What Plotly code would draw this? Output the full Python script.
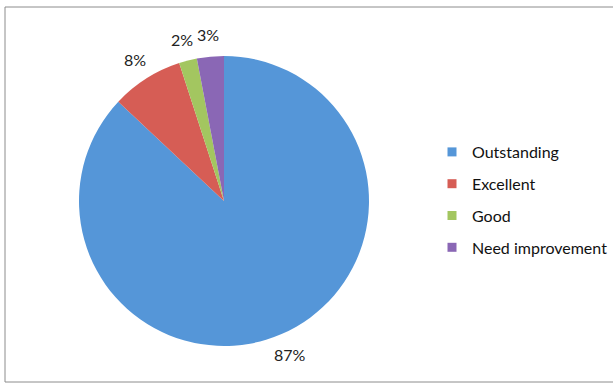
import math
import plotly.graph_objects as go

categories = ["Outstanding", "Excellent", "Good", "Need improvement"]
values = [87, 8, 2, 3]
colors = ["#5596d8", "#d65d55", "#a3c660", "#8a67b5"]

W, H = 613, 391
FONT = "Lato, Open Sans, sans-serif"

# pie geometry (pixels from top-left)
CX, CY, R = 224, 201, 145

fig = go.Figure()
fig.add_trace(go.Pie(
    labels=categories,
    values=values,
    marker=dict(colors=colors, line=dict(width=0)),
    sort=False,
    direction="clockwise",
    rotation=0,
    textinfo="none",
    showlegend=False,
    hoverinfo="label+percent",
    domain=dict(x=[(CX - R) / W, (CX + R) / W], y=[1 - (CY + R) / H, 1 - (CY - R) / H]),
))

# percentage labels placed outside each slice at its mid-angle
total = sum(values)
annotations = []
cum = 0.0
for v in values:
    mid = (cum + v / 2) / total * 2 * math.pi
    cum += v
    dist = R + 22
    px = CX + dist * math.sin(mid)
    py = CY - dist * math.cos(mid)
    annotations.append(dict(
        x=px / W, y=1 - py / H, xref="paper", yref="paper",
        text=f"{round(v / total * 100)}%", showarrow=False,
        xanchor="center", yanchor="middle",
        font=dict(family=FONT, size=16, color="#222222"),
    ))

# legend entries (one per category) so the vertical spacing can be matched
for i, (cat, col) in enumerate(zip(categories, colors)):
    fig.add_trace(go.Scatter(
        x=[None], y=[None], mode="markers", name=cat,
        marker=dict(symbol="square", size=9, color=col),
        legendgroup=f"g{i}", showlegend=True,
    ))

fig.update_layout(
    width=W, height=H,
    margin=dict(l=0, r=0, t=0, b=0),
    paper_bgcolor="white",
    plot_bgcolor="white",
    xaxis=dict(visible=False),
    yaxis=dict(visible=False),
    annotations=annotations,
    legend=dict(
        x=432 / W, y=1 - 135 / H, xanchor="left", yanchor="top",
        font=dict(family=FONT, size=16, color="#111111"),
        tracegroupgap=8,
        itemwidth=30,
        bgcolor="rgba(0,0,0,0)",
    ),
    shapes=[dict(
        type="rect", xref="paper", yref="paper",
        x0=5 / W, x1=1.01, y0=1 - 382 / H, y1=1 - 7 / H,
        line=dict(color="#8c8c8c", width=1),
    )],
)

fig.write_html("out.html", config={"displayModeBar": False},
               post_script="document.body.style.margin='0';")
